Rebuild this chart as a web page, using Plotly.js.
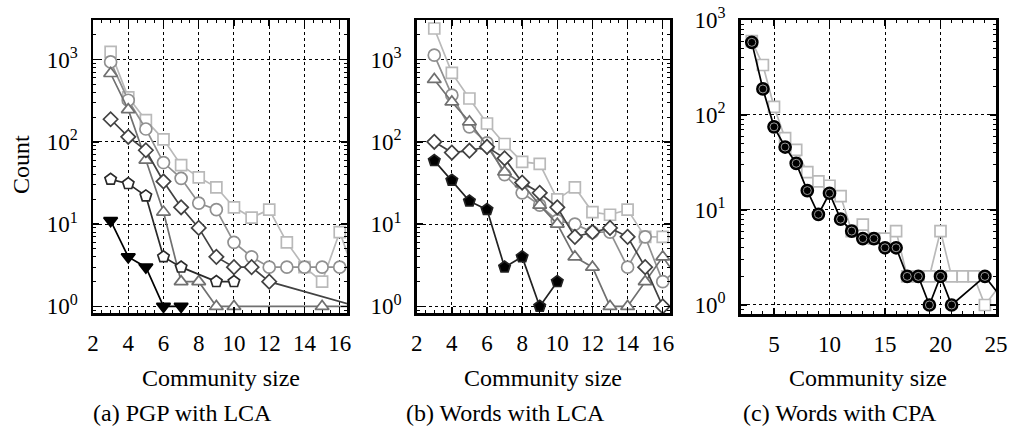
<!DOCTYPE html>
<html><head><meta charset="utf-8">
<script src="https://cdn.plot.ly/plotly-3.0.1.min.js"></script>
<style>body{margin:0;padding:0;background:#fff}#chart{width:1015px;height:432px}</style>
</head><body><div id="chart"></div>
<script>
// ---- Panel (a) PGP with LCA ----
const aSqX = [3,4,5,6,7,8,9,10,11,12,13,14,15,16,17];
const aSqY = [1240,347,183,107,52,37,28,16,12,15,6,3,2,8,2];
const aCiX = [3,4,5,6,7,8,9,10,11,12,13,14,15,16,17];
const aCiY = [935,320,143,56,36,18,15,6,4,3,3,3,3,3,3];
const aTrX = [3,4,5,6,7,8,9,10,15,17];
const aTrY = [676,246,60,14,2,2,1,1,1,1];
const aDiX = [3,4,5,6,7,8,9,10,11,12,17];
const aDiY = [188,115,79,33,16,9,4,3,3,2,1];
const aPeX = [3,4,5,6,7,9,10];
const aPeY = [35,31,22,4,3,2,2];
const aTdX = [3,4,5,6,7];
const aTdY = [11,4,3,1,1];
// ---- Panel (b) Words with LCA ----
const bSqX = [3,4,5,6,7,8,9,10,11,12,13,14,15,16,17];
const bSqY = [2380,687,336,167,94,57,54,20,28,14,13,15,7,7,7];
const bCiX = [3,4,5,6,7,8,9,10,11,12,13,14,15,16,17];
const bCiY = [1130,369,152,97,40,24,17,11,10,8,8,3,7,2,3];
const bTrX = [3,4,5,6,7,8,9,10,11,12,13,14,15,16,17];
const bTrY = [572,305,175,89,43,31,17,10,4,3,1,1,2,4,2];
const bDiX = [3,4,5,6,7,8,9,10,11,12,13,14,15,16];
const bDiY = [100,74,78,87,63,32,24,16,7,8,9,7,3,1];
const bPeX = [3,4,5,6,7,8,9,10];
const bPeY = [59,34,19,15,3,4,1,2];
// ---- Panel (c) Words with CPA ----
const cSqX = [3,4,5,6,7,8,9,10,11,12,13,14,15,16,17,18,19,20,21,22,23,24,26];
const cSqY = [600,336,122,57,43,25,20,18,14,6,7,5,5,6,2,2,2,6,2,2,2,1,2];
const cCiX = [3,4,5,6,7,8,9,10,11,12,13,14,15,16,17,18,19,20,21,24,26];
const cCiY = [582,188,75,46,31,16,9,15,8,6,5,5,4,4,2,2,1,2,1,2,1];

const yTickVals = [1,10,100,1000];
const yTickText = ['10<sup>0</sup>','10<sup>1</sup>','10<sup>2</sup>','10<sup>3</sup>'];
const captions = ['(a) PGP with LCA','(b) Words with LCA','(c) Words with CPA'];
const xTitle = 'Community size';
const yTitle = 'Count';

const FONT = 'Liberation Serif';
const FS = 23;   // tick labels
const FT = 24;   // titles and captions
const C_SQ = '#b9b9b9', C_CI = '#909090', C_TR = '#707070', C_DI = '#424242', C_PE = '#2a2a2a';

function tr(x, y, xa, ya, color, symbol, fill, size, lw) {
  return {x: x, y: y, xaxis: xa, yaxis: ya, type: 'scatter', mode: 'lines+markers',
    line: {color: color, width: lw || 1.7},
    marker: {symbol: symbol, size: size, color: fill, line: {color: color, width: 1.7}},
    cliponaxis: true, showlegend: false, hoverinfo: 'x+y'};
}

const data = [
  tr(aSqX, aSqY, 'x', 'y', C_SQ, 'square', '#fff', 11),
  tr(aCiX, aCiY, 'x', 'y', C_CI, 'circle', '#fff', 12),
  tr(aTrX, aTrY, 'x', 'y', C_TR, 'triangle-up', '#fff', 12),
  tr(aDiX, aDiY, 'x', 'y', C_DI, 'diamond', '#fff', 11),
  tr(aPeX, aPeY, 'x', 'y', C_PE, 'pentagon', '#fff', 12),
  tr(aTdX, aTdY, 'x', 'y', '#000', 'triangle-down', '#000', 12),

  tr(bSqX, bSqY, 'x2', 'y2', C_SQ, 'square', '#fff', 11),
  tr(bCiX, bCiY, 'x2', 'y2', C_CI, 'circle', '#fff', 12),
  tr(bTrX, bTrY, 'x2', 'y2', C_TR, 'triangle-up', '#fff', 12),
  tr(bDiX, bDiY, 'x2', 'y2', C_DI, 'diamond', '#fff', 11),
  tr(bPeX, bPeY, 'x2', 'y2', '#222', 'pentagon', '#000', 12),

  tr(cSqX, cSqY, 'x3', 'y3', C_SQ, 'square', '#fff', 11),
  tr(cCiX, cCiY, 'x3', 'y3', '#000', 'circle', '#000', 12),
  {x: cCiX, y: cCiY, xaxis: 'x3', yaxis: 'y3', type: 'scatter', mode: 'markers',
   marker: {symbol: 'circle-open', size: 8, color: '#9a9a9a', line: {color: '#9a9a9a', width: 1}},
   cliponaxis: true, showlegend: false, hoverinfo: 'skip'}
];

function xax(domain, range, dtick, tick0, minor) {
  return {domain: domain, range: range, dtick: dtick, tick0: tick0,
    showline: true, linewidth: 2.5, linecolor: '#000', mirror: 'ticks',
    ticks: 'inside', ticklen: 6, tickwidth: 1.5, tickcolor: '#000',
    minor: {dtick: minor, ticks: 'inside', ticklen: 3, tickwidth: 1, tickcolor: '#000', showgrid: false},
    showgrid: true, gridcolor: '#000', griddash: 'dot', gridwidth: 1,
    zeroline: false, ticklabelstandoff: 8,
    tickfont: {family: FONT, size: FS, color: '#000'}, automargin: false, fixedrange: true};
}
function yax(domain, range, xa) {
  return {domain: domain, type: 'log', range: range, anchor: xa,
    tickvals: yTickVals, ticktext: yTickText,
    showline: true, linewidth: 2.5, linecolor: '#000', mirror: 'ticks',
    ticks: 'inside', ticklen: 6, tickwidth: 1.5, tickcolor: '#000',
    minor: {dtick: 'D1', ticks: 'inside', ticklen: 3, tickwidth: 1, tickcolor: '#000', showgrid: false},
    showgrid: true, gridcolor: '#000', griddash: 'dot', gridwidth: 1,
    zeroline: false, ticklabelstandoff: 8,
    tickfont: {family: FONT, size: FS, color: '#000'}, automargin: false, fixedrange: true};
}

function ann(text, px, py, anchor, angle) {
  return {text: text, xref: 'paper', yref: 'paper', x: px/1015, y: 1 - py/432,
    textangle: angle || 0, showarrow: false, xanchor: anchor, yanchor: 'middle',
    font: {family: FONT, size: FT, color: '#000'}};
}

const yd = [1 - 313/432, 1 - 20/432];
const layout = {
  width: 1015, height: 432, margin: {l: 0, r: 0, t: 0, b: 0},
  paper_bgcolor: '#fff', plot_bgcolor: '#fff',
  font: {family: FONT, size: FS, color: '#000'},
  showlegend: false,
  xaxis: Object.assign(xax([93/1015, 347.3/1015], [2, 16.43], 2, 2, 0.5), {anchor: 'y'}),
  yaxis: yax(yd, [-0.08, 3.48], 'x'),
  xaxis2: Object.assign(xax([416.7/1015, 670.3/1015], [2, 16.43], 2, 2, 0.5), {anchor: 'y2'}),
  yaxis2: yax(yd, [-0.08, 3.48], 'x2'),
  xaxis3: Object.assign(xax([740.7/1015, 996/1015], [2, 25], 5, 0, 1), {anchor: 'y3'}),
  yaxis3: yax([1 - 314/432, 1 - 20/432], [-0.095, 3.0], 'x3'),
  annotations: [
    ann(yTitle, 21, 165, 'center', -90),
    ann(xTitle, 221, 378, 'center'),
    ann(xTitle, 543, 378, 'center'),
    ann(xTitle, 868, 378, 'center'),
    ann(captions[0], 91, 413, 'left'),
    ann(captions[1], 404, 413, 'left'),
    ann(captions[2], 741, 413, 'left')
  ]
};
Plotly.newPlot('chart', data, layout, {staticPlot: true, displayModeBar: false});
</script>
</body></html>
